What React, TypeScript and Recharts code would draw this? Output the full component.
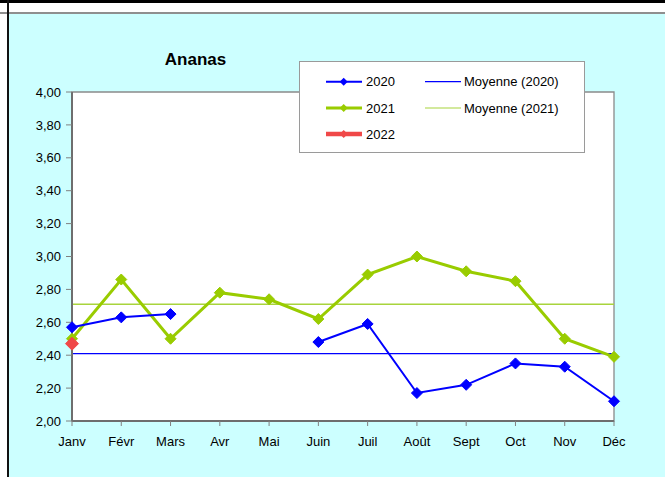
import React from 'react';
import { LineChart, Line, XAxis, YAxis, ReferenceLine, ReferenceArea } from 'recharts';

const months = ['Janv', 'Févr', 'Mars', 'Avr', 'Mai', 'Juin', 'Juil', 'Août', 'Sept', 'Oct', 'Nov', 'Déc'];
const prix2020: (number | null)[] = [2.57, 2.63, 2.65, null, null, 2.48, 2.59, 2.17, 2.22, 2.35, 2.33, 2.12];
const prix2021: (number | null)[] = [2.5, 2.86, 2.5, 2.78, 2.74, 2.62, 2.89, 3.0, 2.91, 2.85, 2.5, 2.39];
const prix2022: (number | null)[] = [2.47, null, null, null, null, null, null, null, null, null, null, null];
const moyenne2020 = 2.41;
const moyenne2021 = 2.71;
const yTicks = [2.0, 2.2, 2.4, 2.6, 2.8, 3.0, 3.2, 3.4, 3.6, 3.8, 4.0];
const title = 'Ananas';
const legendSeries = ['2020', '2021', '2022'];
const legendMeans = ['Moyenne (2020)', 'Moyenne (2021)'];

const data = months.map((m, i) => ({ mois: m, a2020: prix2020[i], a2021: prix2021[i], a2022: prix2022[i] }));

const BLUE = '#0000FF';
const GREEN = '#99CC00';
const GREEN_MEAN = '#A8D43C';
const RED = '#F04848';
const FONT = "'Liberation Sans', Arial, sans-serif";

const diamond = (color: string, r: number) => (props: any) => {
  const { cx, cy, index, value } = props;
  if (cx == null || cy == null || value == null || Number.isNaN(cy)) return <g key={`n-${color}-${index}`} />;
  return (
    <path
      key={`d-${color}-${index}`}
      d={`M${cx},${cy - r}L${cx + r},${cy}L${cx},${cy + r}L${cx - r},${cy}Z`}
      fill={color}
      stroke={color}
      strokeWidth={1}
    />
  );
};

const fmt = (v: number) => v.toFixed(2).replace('.', ',');

export default function App() {
  const seriesColors = [BLUE, GREEN, RED];
  const seriesWidths = [2, 3, 4.5];
  const rowY = [19.7, 46, 72];
  return (
    <div style={{ position: 'absolute', left: 0, top: 0, width: 665, height: 477, background: '#fff', overflow: 'hidden', fontFamily: FONT }}>
      <div style={{ position: 'absolute', left: 0, top: 0, width: 665, height: 3, background: '#000' }} />
      <div style={{ position: 'absolute', left: 0, top: 12, width: 665, height: 1.5, background: '#8f8f8f' }} />
      <div style={{ position: 'absolute', left: 8, top: 13.5, width: 657, height: 464, background: '#CCFFFF' }} />
      <div style={{ position: 'absolute', left: 7, top: 0, width: 1.8, height: 477, background: '#111' }} />
      <div style={{ position: 'absolute', left: 0, top: 0 }}>
        <LineChart width={665} height={477} data={data} margin={{ top: 92, right: 51, bottom: 0, left: 0 }}>
          <ReferenceArea x1="Janv" x2="Déc" y1={2} y2={4} fill="#fff" fillOpacity={1} stroke="#8a8a8a" strokeWidth={1.3} />
          <XAxis
            dataKey="mois"
            interval={0}
            height={56}
            tickSize={5}
            tickMargin={11}
            axisLine={{ stroke: '#6e6e6e', strokeWidth: 2 }}
            tickLine={{ stroke: '#808080' }}
            tick={{ fill: '#000', fontSize: 13, fontFamily: FONT }}
          />
          <YAxis
            width={72}
            domain={[2, 4]}
            ticks={yTicks}
            interval={0}
            tickFormatter={fmt}
            tickSize={6}
            tickMargin={5}
            axisLine={{ stroke: '#6e6e6e', strokeWidth: 2 }}
            tickLine={{ stroke: '#808080' }}
            tick={{ fill: '#000', fontSize: 13, fontFamily: FONT }}
          />
          <ReferenceLine y={moyenne2020} stroke={BLUE} strokeWidth={1.3} />
          <ReferenceLine y={moyenne2021} stroke={GREEN_MEAN} strokeWidth={1.6} />
          <Line dataKey="a2021" stroke={GREEN} strokeWidth={3} dot={diamond(GREEN, 5.5)} isAnimationActive={false} connectNulls={false} />
          <Line dataKey="a2020" stroke={BLUE} strokeWidth={2} dot={diamond(BLUE, 5.5)} isAnimationActive={false} connectNulls={false} />
          <Line dataKey="a2022" stroke={RED} strokeWidth={4} dot={diamond(RED, 6.5)} isAnimationActive={false} connectNulls={false} />
        </LineChart>
      </div>
      <svg width={665} height={477} style={{ position: 'absolute', left: 0, top: 0, pointerEvents: 'none' }}>
        <text x={195.5} y={65} textAnchor="middle" fontSize={17} fontWeight="bold" fontFamily={FONT} fill="#000">{title}</text>
      </svg>
      <div style={{ position: 'absolute', left: 299, top: 61, width: 284, height: 90, background: '#fff', border: '1px solid #9a9a9a' }}>
        <svg width={284} height={90} style={{ position: 'absolute', left: 0, top: 0 }}>
          {legendSeries.map((s, i) => (
            <g key={s}>
              <line x1={26} x2={62} y1={rowY[i]} y2={rowY[i]} stroke={seriesColors[i]} strokeWidth={seriesWidths[i]} />
              <path d={`M43.7,${rowY[i] - 4}L47.7,${rowY[i]}L43.7,${rowY[i] + 4}L39.7,${rowY[i]}Z`} fill={seriesColors[i]} />
              <text x={66} y={rowY[i] + 4.6} fontSize={13} fontFamily={FONT} fill="#000">{s}</text>
            </g>
          ))}
          {legendMeans.map((s, i) => (
            <g key={s}>
              <line x1={125} x2={161} y1={rowY[i]} y2={rowY[i]} stroke={i === 0 ? BLUE : GREEN_MEAN} strokeWidth={1.2} />
              <text x={164} y={rowY[i] + 4.6} fontSize={13} fontFamily={FONT} fill="#000">{s}</text>
            </g>
          ))}
        </svg>
      </div>
    </div>
  );
}
